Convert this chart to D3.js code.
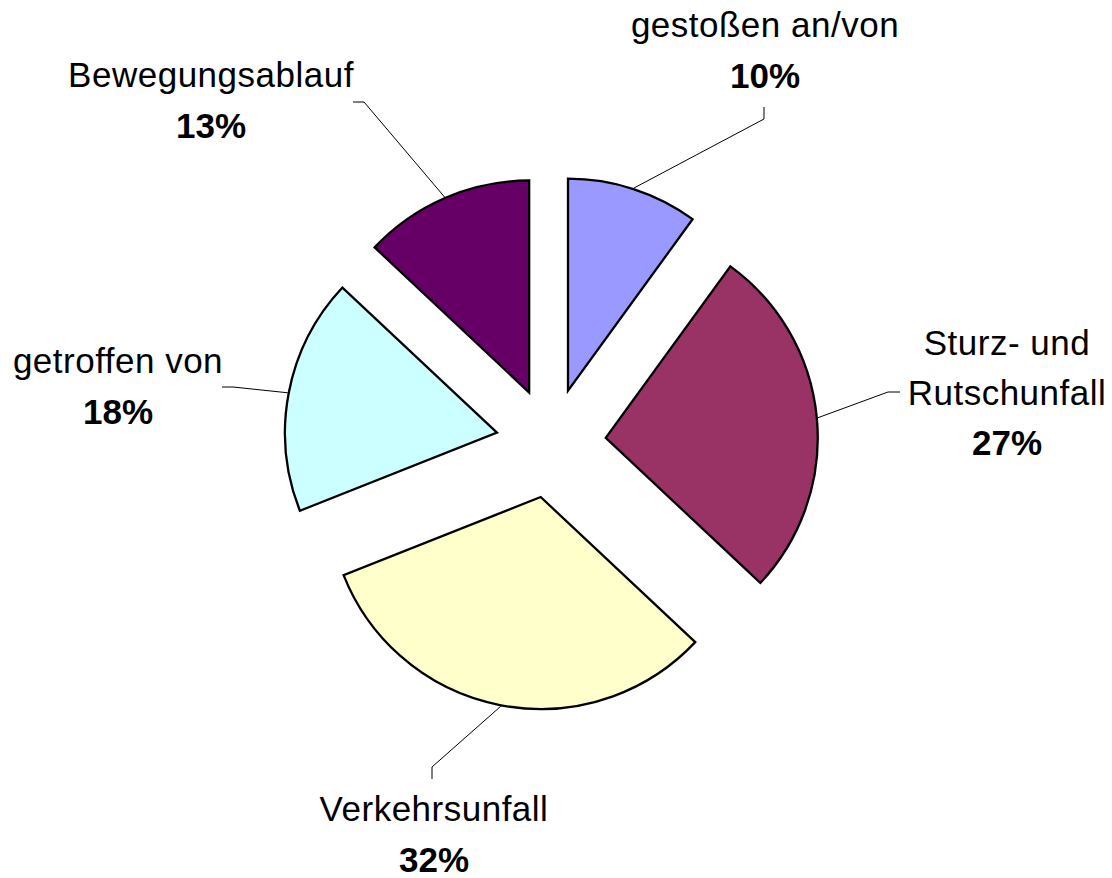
<!DOCTYPE html>
<html>
<head>
<meta charset="utf-8">
<script src="https://cdn.jsdelivr.net/npm/d3@7"></script>
<style>
  html, body { margin: 0; padding: 0; background: #fff; }
  svg { display: block; }
</style>
</head>
<body>
<script>
// Unfallarten – Anteile in Prozent
const categories = ["gestoßen an/von", "Sturz- und Rutschunfall", "Verkehrsunfall", "getroffen von", "Bewegungsablauf"];
const labelLines = [["gestoßen an/von"], ["Sturz- und", "Rutschunfall"], ["Verkehrsunfall"], ["getroffen von"], ["Bewegungsablauf"]];
const values = [10, 27, 32, 18, 13];
const colors = ["#9999FF", "#993366", "#FFFFCC", "#CCFFFF", "#660066"];

// Layout: label block (center x, first baseline y), leader elbow and leader end
const labelAnchor = [[765, 37], [1007, 355], [434, 821], [118, 373], [211, 87]];
const leaderElbow = [[764, 119], [888, 392], [432, 767], [233, 387], [364, 102]];
const leaderEnd   = [[764, 107], [900, 392], [432, 779], [222, 387], [353, 102]];

const W = 1112, H = 878;
const cx = 551, cy = 443;
const radius = 212;
const explode = 55;
const lineHeight = 49.5;

const svg = d3.select("body").append("svg")
  .attr("width", W).attr("height", H);

const pie = d3.pie().sort(null).value(d => d)(values);
const arc = d3.arc().innerRadius(0).outerRadius(radius);

const total = d3.sum(values);

const g = svg.append("g").attr("transform", `translate(${cx},${cy})`);

// offset of each exploded slice along its mid-angle
function shift(d) {
  const a = (d.startAngle + d.endAngle) / 2;
  return [Math.sin(a) * explode, -Math.cos(a) * explode];
}

// leader lines (under the slices)
const leaders = svg.append("g");
pie.forEach((d, i) => {
  const a = (d.startAngle + d.endAngle) / 2;
  const [dx, dy] = shift(d);
  const p0 = [cx + dx + Math.sin(a) * (radius + 1), cy + dy - Math.cos(a) * (radius + 1)];
  const pts = [p0, leaderElbow[i], leaderEnd[i]];
  leaders.append("path")
    .attr("d", d3.line()(pts))
    .attr("fill", "none")
    .attr("stroke", "#000")
    .attr("stroke-width", 1);
});

// slices
g.selectAll("path.slice")
  .data(pie)
  .join("path")
  .attr("class", "slice")
  .attr("transform", d => { const [dx, dy] = shift(d); return `translate(${dx},${dy})`; })
  .attr("d", arc)
  .attr("fill", (d, i) => colors[i])
  .attr("stroke", "#000")
  .attr("stroke-width", 2.3)
  .attr("stroke-linejoin", "miter");

// labels: category name(s) + bold percentage
const labels = svg.append("g")
  .attr("font-family", "'Liberation Sans', Arial, sans-serif")
  .attr("fill", "#000")
  .attr("text-anchor", "middle");

pie.forEach((d, i) => {
  const [x, y0] = labelAnchor[i];
  const lines = labelLines[i];
  lines.forEach((t, k) => {
    labels.append("text")
      .attr("x", x).attr("y", y0 + k * lineHeight)
      .attr("font-size", 35)
      .attr("letter-spacing", 0.5)
      .text(t);
  });
  labels.append("text")
    .attr("x", x).attr("y", y0 + lines.length * lineHeight + 1)
    .attr("font-size", 35)
    .attr("font-weight", "bold")
    .text(Math.round(d.value / total * 100) + "%");
});
</script>
</body>
</html>
